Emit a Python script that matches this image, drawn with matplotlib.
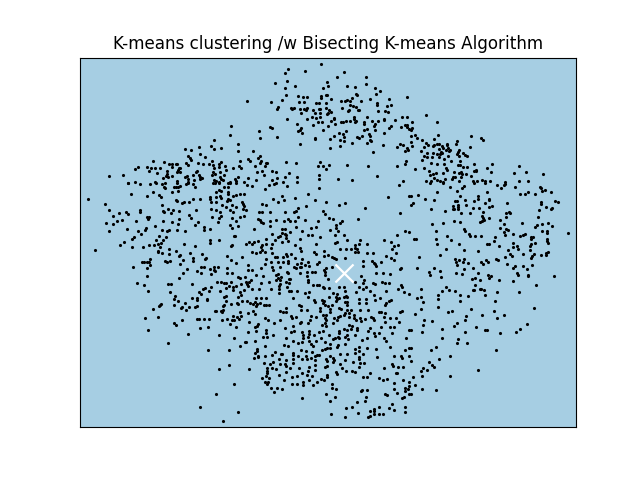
import numpy as np
import matplotlib
matplotlib.use("Agg")
import matplotlib.pyplot as plt

# Values, grouped by area of the plot
upper_left = [
    (231,126),(230,135),(214,140),(238,144),(211,146),(199,147),(185,149),(191,150),(214,149),(221,148),(238,151),(200,154),(188,156),(205,157),(190,158),(191,160),(153,161),(164,162),(186,163),(188,165),(198,163),(203,164),(209,164),(212,161),(213,165),(214,168),(219,164),(221,162),(219,167),(225,166),(226,170),(233,168),(240,161),(239,166),(241,168),(138,167),(135,169),(147,167),(151,168),(155,168),(160,168),(149,171),(157,173),(169,164),(172,164),(172,167),(176,164),(177,164),(179,168),(180,168),(178,170),(177,172),(180,172),(167,171),(167,174),(166,176),(168,177),(163,178),(172,176),(177,181),(109,176),(123,175),(128,183),(135,182),(155,182),(165,183),(185,177),(187,176),(188,179),(188,182),(194,180),(193,175),(196,172),(197,171),(199,175),(200,177),(202,178),(200,179),(212,175),(213,172),(215,174),(220,172),(224,175),(220,177),(214,180),(216,181),(221,179),(223,180),(219,182),(230,182),(235,179),(238,177),(236,181),(244,182),
]
upper_mid = [
    (321,64),(288,69),(285,73),(305,71),(344,72),(337,77),(366,77),(287,81),(275,83),(327,82),(366,84),(328,86),(323,88),(295,86),(285,88),(347,86),(355,87),(375,88),(380,91),(376,94),(286,95),(298,96),(303,97),(307,97),(321,96),(321,98),(326,95),(327,95),(356,94),(357,95),(331,99),(370,99),(389,99),(407,97),(282,100),(247,101),(271,102),(299,102),(304,102),(316,103),(319,103),(326,103),(341,101),(345,101),(347,100),(350,101),(352,98),(361,101),(377,103),(377,105),(391,105),(387,106),(350,105),(353,106),(356,107),(278,107),(277,109),(291,108),(292,109),(294,108),(300,109),(304,109),(307,108),(306,110),(313,110),(319,109),(320,109),(326,108),(329,110),(331,112),(342,108),(349,110),(348,111),(358,110),(359,110),(378,111),(385,111),(388,112),(301,113),(315,113),(320,113),(327,114),(328,113),(312,117),(316,118),(320,117),(307,119),(287,119),(334,118),(334,119),(354,117),(354,119),(367,117),(331,121),(318,122),(322,122),(341,122),(343,122),(346,121),(350,121),(356,121),(355,122),(335,124),(372,121),(378,121),(384,119),(384,120),(395,120),(402,117),(407,117),(297,124),(313,125),(328,126),(364,122),(364,124),(375,124),(374,126),(391,126),(389,128),(401,127),(405,125),(407,125),(407,127),(409,129),(270,127),(272,128),(301,128),(300,130),(298,131),(259,131),(323,130),(346,131),(364,130),(367,129),(375,130),(302,133),(339,133),(343,134),(369,134),(370,136),(384,133),(277,137),(260,138),(315,138),(315,139),(334,136),(344,137),(330,139),(340,140),(357,137),(359,138),(362,136),(370,140),(344,141),(352,143),(367,143),(371,141),(300,144),(340,146),(330,148),(383,145),(400,144),(403,145),(397,147),(407,148),(408,150),(405,151),(373,152),(253,151),(260,156),(258,158),(248,159),(250,161),(261,161),(260,163),(286,162),(296,163),(320,162),(267,163),(266,163),(265,166),(255,166),(406,161),(405,164),(318,166),(323,166),(329,165),(347,165),(368,166),(397,166),(326,169),(262,171),(257,172),(272,171),(276,172),(289,173),(264,175),(319,175),(285,177),(297,177),(377,176),(248,178),(277,178),(272,180),(256,180),(319,179),(338,179),(352,180),(283,182),(297,182),(403,181),(276,183),
]
upper_right = [
    (426,115),(412,122),(437,122),(412,128),(411,130),(438,135),(415,135),(411,136),(471,136),(417,138),(434,139),(481,138),(483,140),(422,140),(457,141),(411,142),(426,143),(456,144),(412,146),(428,145),(437,144),(439,144),(434,145),(433,146),(447,144),(447,145),(442,146),(424,147),(470,147),(443,148),(448,148),(439,149),(446,150),(450,150),(449,151),(459,150),(421,151),(458,152),(427,153),(433,153),(441,152),(442,153),(463,153),(437,154),(440,154),(457,154),(465,155),(424,156),(427,157),(432,157),(439,157),(448,156),(459,156),(467,156),(444,159),(422,160),(451,161),(460,161),(431,163),(437,164),(444,164),(458,165),(460,165),(474,164),(492,164),(519,166),(424,168),(415,169),(446,168),(447,170),(463,167),(467,167),(487,168),(476,170),(474,171),(476,171),(429,171),(454,172),(459,173),(461,172),(491,172),(514,173),(526,172),(543,174),(436,173),(433,174),(430,175),(443,173),(462,174),(466,174),(471,176),(455,177),(453,177),(461,177),(434,178),(445,179),(452,179),(437,180),(426,181),(431,181),(440,181),(443,182),(459,181),(473,181),(477,181),(482,180),(485,181),(490,181),(505,182),(519,181),(528,181),
]
middle_left = [
    (88,199),(131,194),(147,196),(153,192),(159,195),(161,197),(162,205),(105,204),(109,210),(119,213),(126,212),(128,214),(113,216),(140,210),(140,212),(147,217),(149,217),(148,219),(163,211),(164,212),(168,209),(171,213),(173,210),(179,211),(179,219),(189,215),(191,218),(196,210),(106,223),(113,224),(117,221),(122,220),(136,221),(155,226),(163,221),(172,222),(178,224),(198,222),(195,225),(109,231),(127,229),(138,231),(145,230),(146,228),(162,230),(167,231),(169,230),(177,230),(185,231),(204,227),(204,230),(210,229),(141,234),(159,236),(166,237),(134,237),(132,239),(124,242),(120,245),(156,240),(163,240),(158,244),(149,245),(154,245),(161,243),(160,247),(143,247),(132,247),(95,250),(184,244),(195,246),(210,240),(210,243),(219,240),(232,245),(231,246),(234,236),(235,236),(158,251),(158,252),(162,253),(169,249),(169,254),(176,251),(180,255),(179,256),(190,253),(202,254),(193,258),(193,261),(206,258),(205,259),(183,260),(227,256),(242,257),(231,260),(236,263),(150,259),(149,262),(142,262),(144,262),(147,262),(150,265),(165,261),(167,262),(170,261),(180,264),(201,267),(133,267),(147,268),(187,269),(204,267),(210,269),(214,267),(218,267),(227,268),(214,270),(183,273),(197,271),(201,273),(211,274),(215,271),(227,273),(232,273),(147,276),(179,278),(238,277),(240,278),(245,277),(217,282),(221,282),(224,283),(231,282),(137,283),(168,284),(171,284),(144,285),(192,284),(226,283),(229,286),(241,284),(236,286),(211,287),(205,288),(203,289),(209,291),(226,288),(233,287),(233,290),(244,290),(148,291),(170,292),(199,292),(201,294),(220,291),(240,292),(241,295),(175,296),(174,299),(197,298),(197,300),(207,299),(207,300),(224,297),(226,296),(238,297),(178,301),(185,303),(192,298),(226,301),(231,304),(237,303),(242,301),(161,304),(160,305),(174,305),(159,306),(182,307),(189,307),(197,306),(195,307),(224,305),(223,306),(238,304),
    (128,183),(140,184),(150,184),(156,183),(162,184),(165,188),(164,187),(174,187),(176,187),(178,187),(180,186),(177,183),(186,184),(188,183),(193,184),(195,187),(213,183),(215,183),(219,183),(228,183),(224,187),(228,187),(230,183),(236,183),(172,192),(178,191),(219,190),(221,191),(228,192),(228,194),(216,192),(210,197),(210,199),(216,197),(221,198),(220,196),(236,195),(233,196),(240,194),(244,194),(193,199),(200,199),(189,202),(184,202),(182,203),(176,200),(177,201),(216,202),(211,202),(228,199),(230,200),(227,201),(242,202),(243,204),(244,206),(222,205),(232,205),(226,207),(236,207),(211,209),(216,210),(220,212),(230,210),(233,212),(243,209),
    (221,216),(219,218),(212,217),(218,222),(230,225),(232,228),(238,226),(232,218),(236,221),(240,217),(244,216),
]
center = [
    (252,186),(247,185),(265,189),(269,185),(274,184),(287,186),(319,188),(399,185),(308,194),(282,196),(295,198),(273,199),(284,200),(315,200),(388,197),(409,196),(278,202),(262,204),(266,205),(306,206),(326,202),(345,203),(339,205),(298,208),(365,208),(296,211),(246,210),(259,212),(262,212),(270,212),(285,212),(294,212),(323,211),(325,214),(400,213),(298,217),(329,218),(258,219),(260,220),(276,220),(288,219),(305,220),(318,221),(333,219),(358,219),(261,222),(263,223),(270,221),(284,221),(290,221),(295,221),(342,221),(340,223),(270,226),(336,225),(296,227),(316,227),(311,228),(336,228),(282,229),(285,229),(254,229),(302,231),(330,230),(405,231),(409,232),(290,232),(338,231),(272,234),(282,233),(285,234),(286,235),(308,235),(312,235),(335,235),(344,235),(397,235),(280,236),(278,237),(320,237),(300,239),(286,238),(266,239),(275,240),(288,241),(282,242),(258,241),(254,242),(249,242),(337,242),(335,243),(347,240),(360,240),(384,240),(391,242),(246,244),(252,244),(262,245),(266,244),(272,244),(295,245),(316,244),(359,244),(367,244),(398,245),(394,246),(300,248),(261,247),(271,248),(355,245),(355,248),(340,249),(346,249),(351,249),(357,249),(392,249),(262,250),(260,252),(252,252),(256,253),(265,252),(272,253),(301,251),(314,252),(324,251),(355,252),(358,252),(367,253),(373,253),(396,253),(316,254),(286,254),(291,254),(328,255),(324,256),(386,256),(332,257),(334,258),(336,259),(345,258),(266,259),(275,257),(277,257),(283,257),(287,256),(302,259),(295,258),(391,258),(394,260),(288,261),(278,262),(271,262),(283,262),(288,263),(363,261),(372,261),(374,263),(381,262),(308,262),(301,263),(319,262),(317,264),(297,264),(248,265),(265,264),(261,268),(272,267),(305,265),(309,266),(294,267),(296,268),(300,267),(301,267),(324,270),(326,268),(332,267),(363,266),(376,266),(401,268),(400,269),(375,264),(273,270),(248,270),(252,270),(256,275),(280,267),(287,272),(288,273),(300,273),(307,272),(312,272),(315,272),(325,272),(325,275),(278,274),(276,275),(263,276),(307,276),(361,276),(376,273),(383,273),(390,274),(281,277),(278,278),(289,279),(290,279),(308,280),(328,279),(364,280),(246,282),(249,282),(251,280),(269,282),(276,280),(280,280),(286,282),(289,283),(308,282),(355,282),(363,283),(373,283),(382,282),(385,283),(389,283),(247,284),(261,283),(280,284),(248,286),(279,286),(287,287),(313,285),(317,285),(319,285),(323,287),(324,288),(329,288),(339,287),(344,287),(359,287),(366,287),(375,284),(401,285),(402,287),(252,289),(259,289),(271,289),(279,289),(289,291),(291,291),(297,291),(305,293),(309,292),(345,291),(370,291),(398,289),(404,292),(409,294),(279,293),(333,293),(337,294),(356,292),(363,289),(346,296),(374,295),(386,291),(256,298),(261,298),(266,298),(293,298),(308,297),(314,300),(322,300),(324,301),(329,297),(336,297),(339,298),(344,297),(347,297),(359,299),(366,299),(375,300),(380,298),(391,300),(389,301),(247,301),(255,302),(250,303),(260,303),(336,301),(337,299),(345,302),(347,302),(359,303),(366,303),(386,303),(385,305),(264,305),(266,305),(269,305),(256,306),(299,305),(301,306),(315,302),(323,303),(325,305),(332,305),(347,305),
]
middle_right = [
    (430,183),(443,183),(474,183),(485,183),(497,185),(505,184),(504,185),(501,188),(515,187),(540,187),(541,188),(545,190),(542,191),(450,187),(457,191),(462,188),(464,186),(437,192),(487,192),(528,192),(551,192),(520,194),(525,194),(535,194),(418,195),(411,196),(460,196),(478,196),(478,199),(425,199),(434,200),(455,201),(457,201),(465,200),(474,201),(489,199),(489,200),(555,201),(558,202),(541,202),(541,204),(413,203),(411,205),(485,203),(507,203),(453,206),(458,205),(458,207),(466,205),(492,206),(489,207),(546,207),(552,208),(551,209),(431,209),(453,209),(454,209),(458,209),(473,208),(479,208),(539,210),(445,211),(461,213),(470,213),(483,212),(506,213),(509,212),(510,213),(506,217),(482,216),(483,218),(489,218),(538,217),(500,220),(484,220),(482,221),(480,222),(454,221),(460,222),(432,224),(443,223),(504,224),(522,223),(537,225),(542,224),(548,223),(535,227),(552,226),(464,229),(465,231),(500,228),(506,229),(508,230),(436,231),(504,232),(542,231),(547,231),(547,233),(568,233),(469,234),(470,236),(475,236),(481,236),(505,235),(513,234),(520,236),(523,235),(525,234),(533,237),(531,237),(531,239),(447,236),(495,237),(414,239),(416,239),(436,239),(451,240),(494,241),(547,239),(547,241),(437,244),(459,244),(487,244),(489,244),(513,243),(535,243),(548,243),(531,244),(530,246),(499,246),(517,246),(513,247),(518,249),(446,249),(464,250),(478,251),(508,250),(530,250),(440,255),(419,257),(510,254),(512,256),(523,254),(534,254),(541,255),(546,253),(548,252),(546,255),(532,256),(531,258),(505,257),(455,259),(459,260),(464,259),(463,262),(456,262),(457,265),(468,263),(481,262),(483,264),(486,260),(488,262),(496,259),(498,260),(507,264),(513,268),(515,266),(523,266),(527,269),(532,265),(417,268),(434,268),(473,268),(464,269),(429,272),(440,271),(456,273),(462,274),(478,273),(517,273),(518,275),(528,275),(528,276),(554,276),(430,275),(441,277),(488,275),(491,276),(489,278),(475,278),(472,279),(480,280),(499,280),(513,281),(536,285),(475,285),(446,287),(421,289),(449,290),(442,291),(455,291),(473,290),(474,290),(480,289),(481,289),(484,290),(497,292),(519,292),(438,295),(460,295),(468,296),(485,295),(421,297),(417,298),(438,299),(423,302),(460,301),(495,301),(438,307),(534,308),
]
lower_left = [
    (153,309),(145,318),(158,317),(148,330),(174,323),(176,325),(182,320),(186,310),(181,308),(188,334),(168,343),(197,319),(199,319),(204,319),(209,319),(200,328),(208,327),(222,320),(227,319),(232,320),(234,320),(233,316),(237,317),(239,319),(241,316),(240,312),(230,324),(236,327),(219,335),(234,338),(245,342),(240,346),(208,350),(229,350),(229,365),(219,369),(234,384),(216,394),(200,407),(238,412),(223,421),(215,311),(216,311),(221,311),(223,310),(222,312),
]
lower_mid = [
    (253,304),(257,304),(320,308),(328,306),(330,309),(339,308),(341,309),(347,310),(345,313),(351,310),(360,310),(368,310),(286,308),(286,312),(280,311),(283,312),(301,310),(307,310),(248,313),(253,311),(255,314),(320,311),(330,312),(379,312),(381,312),(385,313),(402,311),(400,312),(265,318),(268,320),(280,320),(291,316),(296,317),(292,318),(311,316),(310,320),(316,317),(323,315),(326,315),(325,318),(326,320),(334,318),(338,317),(340,316),(344,315),(349,313),(354,315),(354,318),(349,317),(360,318),(365,319),(371,317),(373,318),(384,317),(390,318),(396,318),(374,320),(249,322),(301,322),(300,323),(274,323),(258,324),(308,323),(325,323),(333,323),(337,320),(361,321),(356,320),(385,322),(399,322),(390,327),(394,327),(255,327),(257,326),(285,328),(293,326),(326,326),(322,325),(349,325),(352,326),(344,329),(347,330),(351,329),(357,328),(357,330),(370,328),(381,327),(409,330),(248,332),(256,331),(266,330),(266,333),(291,332),(294,331),(302,332),(309,331),(319,332),(323,331),(339,331),(339,333),(368,331),(374,333),(379,333),(392,333),(263,337),(267,337),(273,335),(303,335),(303,338),(309,334),(308,337),(314,335),(321,338),(329,335),(339,338),(347,335),(345,337),(355,335),(367,338),(375,336),(384,338),(406,338),(286,338),(333,339),(335,338),(338,337),(348,339),(362,340),(246,342),(255,341),(293,341),(298,343),(302,342),(309,341),(311,344),(316,341),(325,342),(330,344),(386,341),(265,346),(284,345),(288,346),(313,346),(338,345),(337,347),(345,344),(359,347),(355,349),(367,348),(390,347),(376,349),(257,349),(257,351),(293,353),(301,350),(306,351),(312,352),(322,350),(325,349),(327,348),(330,348),(359,351),(405,350),(409,348),(255,353),(275,352),(281,354),(282,354),(293,355),(298,356),(306,356),(315,356),(317,355),(319,355),(330,356),(340,354),(347,354),(355,353),(363,354),(258,356),(258,357),(265,356),(272,355),(254,358),(279,359),(286,360),(293,359),(302,359),(307,359),(311,358),(326,359),(333,358),(334,360),(359,357),(359,359),(377,357),(394,356),(401,356),(402,358),(409,356),(264,363),(270,364),(273,362),(280,364),(285,364),(286,366),(293,363),(315,360),(327,361),(333,362),(340,364),(345,360),(353,362),(360,363),(364,363),(392,364),(393,366),(249,369),(267,368),(272,368),(276,369),(290,368),(299,368),(309,367),(315,365),(325,367),(327,366),(342,368),(346,371),(352,371),(355,372),(359,367),(384,368),(398,367),(403,367),(267,371),(267,373),(286,372),(315,370),(308,371),(396,373),(397,373),(336,372),(337,374),(370,373),(279,375),(266,376),(292,377),(297,376),(302,373),(307,375),(312,376),(327,375),(327,377),(363,377),(367,377),(379,378),(383,380),(387,379),(403,380),(262,378),(269,378),(284,380),(309,380),(317,382),(321,379),(324,380),(265,382),(268,382),(267,384),(292,384),(297,384),(303,382),(303,385),(313,385),(332,384),(394,383),(409,382),(271,388),(277,388),(282,389),(332,388),(336,389),(405,388),(409,386),(408,389),(362,390),(361,391),(367,390),(394,389),(397,393),(405,391),(274,392),(326,394),(385,394),(387,395),(409,394),(335,397),(366,397),(302,398),(404,397),(402,398),(330,401),(357,402),(365,401),(392,404),(346,408),(352,407),(379,407),(389,408),(394,410),(405,407),(405,412),(374,409),(370,411),(374,411),(358,413),(331,414),(374,414),(379,414),(383,414),(345,417),(368,417),(370,416),
]
lower_right = [
    (421,309),(448,312),(452,311),(471,309),(494,311),(415,314),(466,316),(482,315),(504,315),(497,318),(424,320),(432,321),(465,320),(457,323),(454,326),(423,325),(527,324),(442,329),(476,327),(520,329),(485,330),(487,330),(411,330),(422,332),(465,332),(500,333),(516,332),(442,338),(458,339),(457,343),(467,343),(436,347),(431,350),(496,350),(411,348),(450,356),(439,359),(411,361),(429,362),(432,365),(434,367),(423,368),(427,370),(421,371),(478,370),(422,376),(450,376),(413,377),(415,385),(422,389),(436,390),(411,394),
]
centroid = (344, 273)
title = "K-means clustering /w Bisecting K-means Algorithm"

points = np.array(upper_left + upper_mid + upper_right + middle_left + center
                  + middle_right + lower_left + lower_mid + lower_right)

fig, ax = plt.subplots(figsize=(6.4, 4.8), dpi=100)
ax.set_facecolor("#a6cee3")
ax.plot(points[:, 0], points[:, 1], "k.", markersize=2.5)
ax.scatter(centroid[0], centroid[1], marker="x", s=169, linewidths=1.6, color="w", zorder=10)
ax.set_title(title, fontsize=12.05)
ax.set_xlim(80, 576)
ax.set_ylim(427.2, 57.6)
ax.set_xticks(())
ax.set_yticks(())
fig.savefig("out.png")
